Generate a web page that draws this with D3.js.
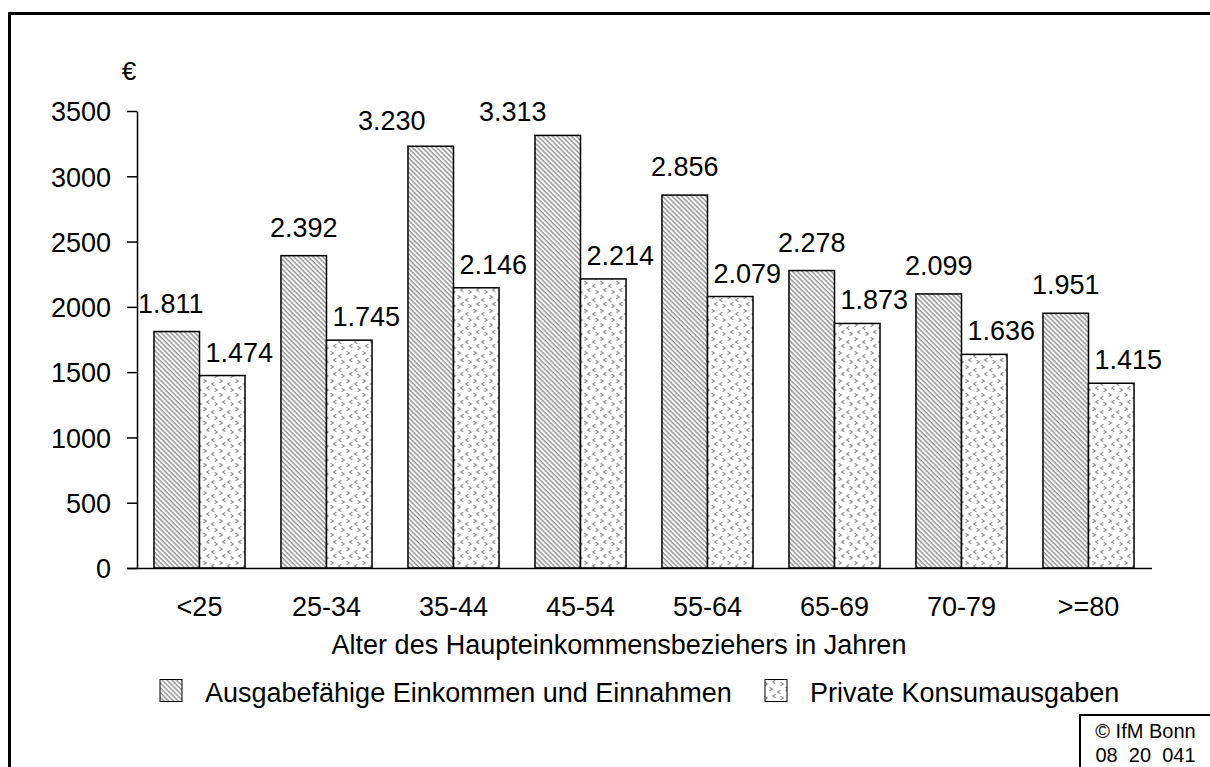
<!DOCTYPE html>
<html>
<head>
<meta charset="utf-8">
<script src="https://cdn.jsdelivr.net/npm/d3@7"></script>
<style>
  body { margin: 0; background: #fff; }
  text { font-family: "Liberation Sans", Arial, sans-serif; fill: #000; }
</style>
</head>
<body>
<div id="chart"></div>
<script>
const categories = ['<25', '25-34', '35-44', '45-54', '55-64', '65-69', '70-79', '>=80']
const income = [1811, 2392, 3230, 3313, 2856, 2278, 2099, 1951]
const consumption = [1474, 1745, 2146, 2214, 2079, 1873, 1636, 1415]
const yTicks = [0, 500, 1000, 1500, 2000, 2500, 3000, 3500]
const seriesNames = ['Ausgabefähige Einkommen und Einnahmen', 'Private Konsumausgaben']

const width = 1210
const height = 767
const fs = '27px'
const fmt = v => d3.format(',')(v).replace(',', '.')

// hand nudges for the few labels that were moved in the original
const nudge = {
  '<25': [-6, 0],
  '35-44': [-39, 3],
  '45-54': [-45, 5]
}

const svg = d3.select('#chart').append('svg')
  .attr('width', width)
  .attr('height', height)

const defs = svg.append('defs')

// diagonal hatch
const hatch = defs.append('pattern')
  .attr('id', 'hatch')
  .attr('patternUnits', 'userSpaceOnUse')
  .attr('width', 3.4)
  .attr('height', 3.4)
  .attr('patternTransform', 'rotate(-45)')
hatch.append('rect').attr('width', 3.4).attr('height', 3.4).attr('fill', '#fff')
hatch.append('line')
  .attr('x1', 1).attr('y1', 0).attr('x2', 1).attr('y2', 3.4)
  .attr('stroke', '#959595').attr('stroke-width', 1.5)

// little chevrons
const dots = defs.append('pattern')
  .attr('id', 'dots')
  .attr('patternUnits', 'userSpaceOnUse')
  .attr('width', 16)
  .attr('height', 14)
dots.append('rect').attr('width', 16).attr('height', 14).attr('fill', '#fff')
const chev = [
  [3, 3, 1], [11, 6, -1], [6, 10, -1], [14, 12, 1]
]
chev.forEach(([cx, cy, dir]) => {
  dots.append('path')
    .attr('d', `M${cx - dir * 1.4},${cy - 1.8} L${cx + dir * 1.4},${cy} L${cx - dir * 1.4},${cy + 1.8}`)
    .attr('fill', 'none')
    .attr('stroke', '#8f8f8f')
    .attr('stroke-width', 1.1)
})

// outer frame
svg.append('path')
  .attr('d', `M9.5,${height + 5} V13.5 H${width + 5}`)
  .attr('fill', 'none')
  .attr('stroke', '#000')
  .attr('stroke-width', 3)

const x = d3.scaleBand()
  .domain(categories)
  .range([136, 1152])
  .paddingInner(0.283)
  .paddingOuter(0.1415)

const x1 = d3.scaleBand()
  .domain([0, 1])
  .range([0, x.bandwidth()])

const y = d3.scaleLinear()
  .domain([0, 3500])
  .range([568, 111])

// y axis
const yAxis = svg.append('g')
  .attr('transform', 'translate(137,0)')
  .call(d3.axisLeft(y).tickValues(yTicks).tickFormat(d3.format('d')).tickSize(10).tickPadding(16).tickSizeOuter(0))
yAxis.select('.domain').attr('stroke-width', 1.5)
yAxis.selectAll('line').attr('stroke-width', 1.5)
yAxis.selectAll('text')
  .style('font-family', '"Liberation Sans", Arial, sans-serif')
  .style('font-size', fs)
  .attr('dy', '0.36em')

svg.append('text')
  .attr('x', 129)
  .attr('y', 80)
  .attr('text-anchor', 'middle')
  .style('font-size', '26px')
  .text('€')

// bars
const groups = svg.append('g')
  .selectAll('g')
  .data(categories)
  .join('g')
  .attr('transform', d => `translate(${x(d)},0)`)

const rows = categories.map((c, i) => [income[i], consumption[i]])

groups.selectAll('rect')
  .data((d, i) => rows[i].map((v, k) => ({ v, k })))
  .join('rect')
  .attr('x', d => x1(d.k))
  .attr('y', d => y(d.v))
  .attr('width', x1.bandwidth())
  .attr('height', d => y(0) - y(d.v))
  .attr('fill', d => d.k === 0 ? 'url(#hatch)' : 'url(#dots)')
  .attr('stroke', '#000')
  .attr('stroke-width', 1.5)

groups.selectAll('text.val')
  .data((d, i) => rows[i].map((v, k) => ({ v, k, c: d })))
  .join('text')
  .attr('class', 'val')
  .attr('x', d => {
    let dx = d.k === 1 ? 17 : (nudge[d.c] ? nudge[d.c][0] : 0)
    return x1(d.k) + x1.bandwidth() / 2 + dx
  })
  .attr('y', d => {
    if (d.k === 1) return y(d.v) - 14
    return y(d.v) - 19 + (nudge[d.c] ? nudge[d.c][1] : 0)
  })
  .attr('text-anchor', 'middle')
  .style('font-size', fs)
  .text(d => fmt(d.v))

// x axis line
svg.append('line')
  .attr('x1', 127).attr('x2', 1152)
  .attr('y1', 568.5).attr('y2', 568.5)
  .attr('stroke', '#000')
  .attr('stroke-width', 1.5)

svg.append('g')
  .selectAll('text')
  .data(categories)
  .join('text')
  .attr('x', d => x(d) + x.bandwidth() / 2)
  .attr('y', 616)
  .attr('text-anchor', 'middle')
  .style('font-size', fs)
  .text(d => d)

svg.append('text')
  .attr('x', 619)
  .attr('y', 654)
  .attr('text-anchor', 'middle')
  .style('font-size', fs)
  .text('Alter des Haupteinkommensbeziehers in Jahren')

// legend
const legendPos = [[160, 205], [765, 810]]
seriesNames.forEach((name, k) => {
  const [sx, tx] = legendPos[k]
  svg.append('rect')
    .attr('x', sx).attr('y', 679.5)
    .attr('width', 22).attr('height', 22)
    .attr('fill', k === 0 ? 'url(#hatch)' : 'url(#dots)')
    .attr('stroke', '#000')
    .attr('stroke-width', 1)
  svg.append('text')
    .attr('x', tx).attr('y', 702)
    .style('font-size', fs)
    .text(name)
})

// copyright box
svg.append('rect')
  .attr('x', 1080).attr('y', 715)
  .attr('width', 140).attr('height', 60)
  .attr('fill', '#fff')
  .attr('stroke', '#000')
  .attr('stroke-width', 2)
svg.append('text')
  .attr('x', 1145.5).attr('y', 738)
  .attr('text-anchor', 'middle')
  .style('font-size', '20px')
  .text('© IfM Bonn')
svg.append('text')
  .attr('x', 1145.5).attr('y', 762)
  .attr('text-anchor', 'middle')
  .style('font-size', '20px')
  .style('white-space', 'pre')
  .text('08  20  041')
</script>
</body>
</html>
